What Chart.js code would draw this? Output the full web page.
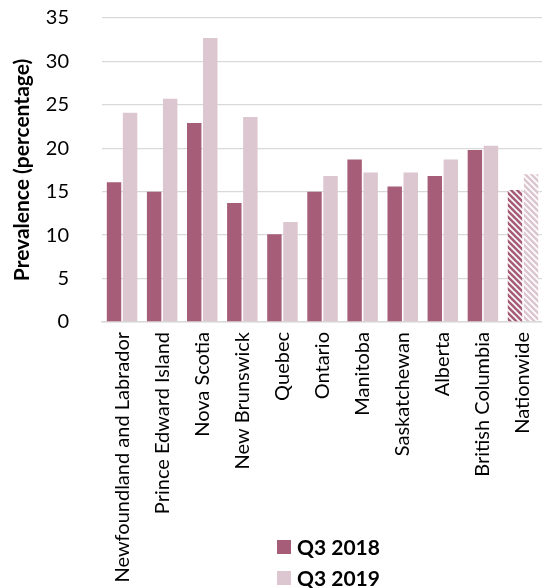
<!DOCTYPE html>
<html>
<head>
<meta charset="utf-8">
<script src="https://cdn.jsdelivr.net/npm/chart.js@4"></script>
<style>
  html, body { margin: 0; padding: 0; background: #fff; overflow: hidden; }
  #wrap { width: 542px; height: 588px; overflow: hidden; }
</style>
</head>
<body>
<div id="wrap"><canvas id="myChart" width="549" height="588"></canvas></div>
<script>
  const provinces = [
    'Newfoundland and Labrador', 'Prince Edward Island', 'Nova Scotia', 'New Brunswick',
    'Quebec', 'Ontario', 'Manitoba', 'Saskatchewan', 'Alberta', 'British Columbia', 'Nationwide'
  ];
  const q3_2018 = [16.1, 15.0, 22.9, 13.7, 10.1, 15.0, 18.7, 15.6, 16.8, 19.8, 15.2];
  const q3_2019 = [24.1, 25.7, 32.7, 23.6, 11.5, 16.8, 17.2, 17.2, 18.7, 20.3, 17.0];
  const seriesNames = ['Q3 2018', 'Q3 2019'];

  const darkColor = '#a65d77';
  const lightColor = '#dcc6d0';
  const fontFamily = 'Lato, "Open Sans", sans-serif';

  // diagonal hatch used for the Nationwide bars
  function makeHatch(bg) {
    const c = document.createElement('canvas');
    c.width = 6;
    c.height = 6;
    const g = c.getContext('2d');
    g.fillStyle = bg;
    g.fillRect(0, 0, 6, 6);
    g.strokeStyle = '#ffffff';
    g.lineWidth = 1.6;
    g.beginPath();
    g.moveTo(-1, -1); g.lineTo(7, 7);
    g.moveTo(-4, 2); g.lineTo(1, 7);
    g.moveTo(5, -1); g.lineTo(8, 2);
    g.stroke();
    return g.createPattern(c, 'repeat');
  }

  function colorsFor(base) {
    return provinces.map(p => p === 'Nationwide' ? makeHatch(base) : base);
  }

  // two-row legend under the short labels
  const stackedLegend = {
    id: 'stackedLegend',
    afterDraw(chart) {
      const ctx = chart.ctx;
      const swatches = [darkColor, lightColor];
      ctx.save();
      ctx.font = 'bold 21px ' + fontFamily;
      ctx.textBaseline = 'middle';
      seriesNames.forEach((name, i) => {
        const y = 547 + i * 31;
        ctx.fillStyle = swatches[i];
        ctx.fillRect(277, y - 7, 14, 14);
        ctx.fillStyle = '#000';
        ctx.fillText(name, 297, y + 1);
      });
      ctx.restore();
    }
  };

  const ctx = document.getElementById('myChart').getContext('2d');
  new Chart(ctx, {
    type: 'bar',
    data: {
      labels: provinces,
      datasets: [
        { label: seriesNames[0], data: q3_2018, backgroundColor: colorsFor(darkColor) },
        { label: seriesNames[1], data: q3_2019, backgroundColor: colorsFor(lightColor) }
      ]
    },
    options: {
      responsive: false,
      animation: false,
      layout: { padding: { top: 18, right: 0, left: 0, bottom: 0 } },
      datasets: { bar: { categoryPercentage: 0.8, barPercentage: 0.9 } },
      scales: {
        x: {
          grid: { display: false },
          border: { display: true, color: '#d9d9d9', width: 1.5 },
          ticks: {
            color: '#000',
            font: { family: fontFamily, size: 20 },
            minRotation: 90,
            maxRotation: 90,
            autoSkip: false,
            padding: 2
          },
          afterFit: s => { s.height = 266; }
        },
        y: {
          min: 0,
          max: 35,
          ticks: {
            stepSize: 5,
            color: '#000',
            font: { family: fontFamily, size: 20 },
            padding: 0
          },
          // invisible tick marks give the gap between labels and plot
          grid: { color: '#d9d9d9', lineWidth: 1.3, drawTicks: true, tickLength: 33, tickColor: 'rgba(0,0,0,0)' },
          border: { display: false },
          title: {
            display: true,
            text: 'Prevalence (percentage)',
            color: '#000',
            font: { family: fontFamily, size: 21, weight: 'bold' },
            padding: { top: 10, bottom: 0 }
          },
          afterFit: s => { s.width = 102; }
        }
      },
      plugins: {
        legend: { display: false },
        tooltip: { enabled: false }
      }
    },
    plugins: [stackedLegend]
  });
</script>
</body>
</html>
